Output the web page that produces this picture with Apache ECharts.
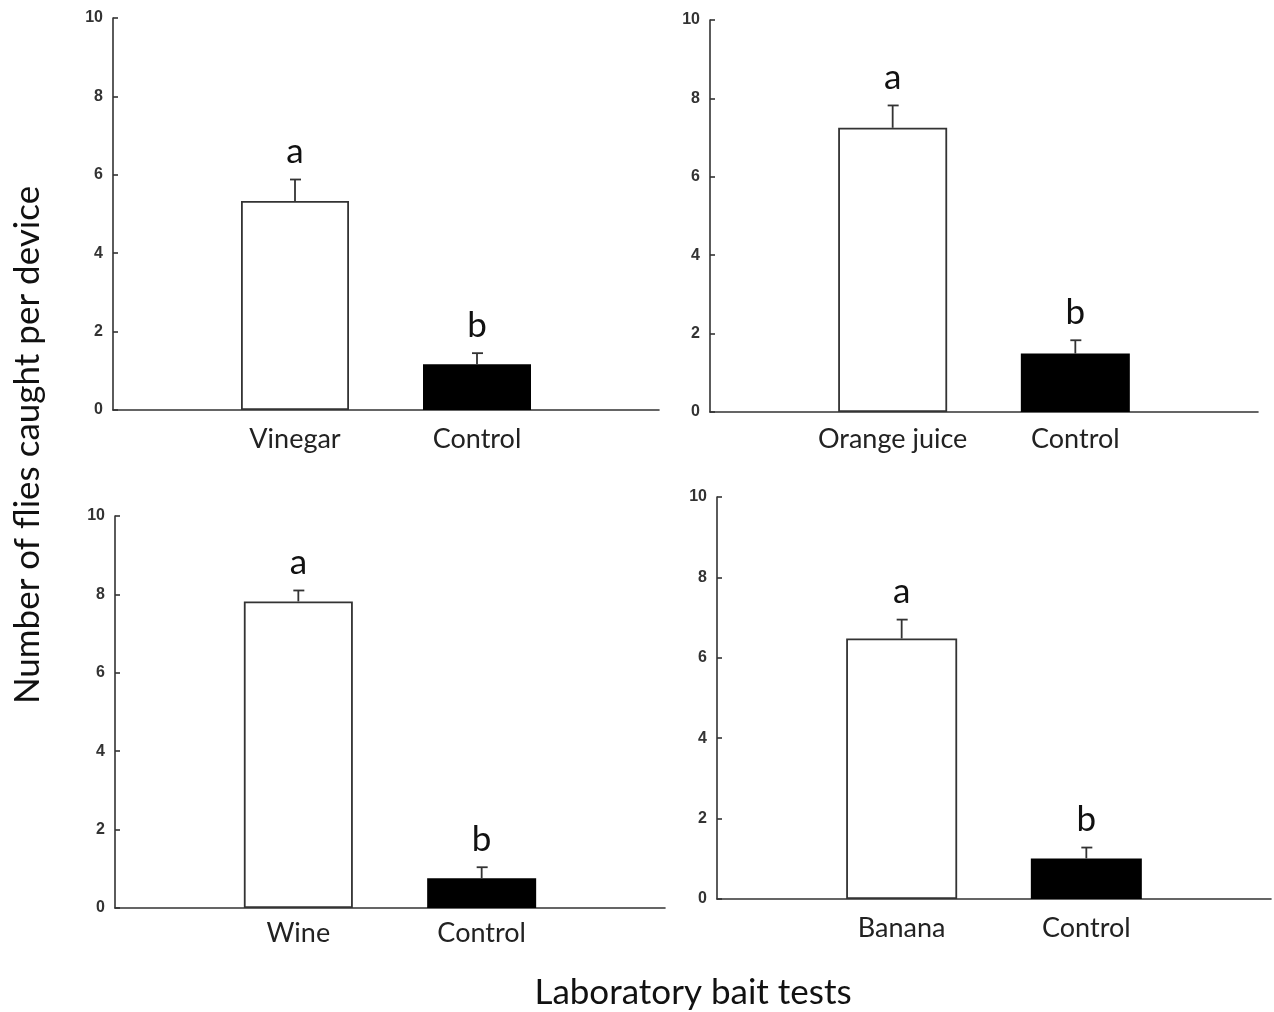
<!DOCTYPE html>
<html>
<head>
<meta charset="utf-8">
<script src="https://cdn.jsdelivr.net/npm/echarts@6/dist/echarts.min.js"></script>
<style>
html,body{margin:0;padding:0;background:#fff;}
#c{width:1274px;height:1012px;}
</style>
</head>
<body>
<div id="c"></div>
<script>
// ---- data ----
const categories1 = ['Vinegar', 'Control'];
const means1 = [5.33, 1.17];
const se1 = [0.55, 0.28];

const categories2 = ['Orange juice', 'Control'];
const means2 = [7.25, 1.49];
const se2 = [0.57, 0.34];

const categories3 = ['Wine', 'Control'];
const means3 = [7.82, 0.76];
const se3 = [0.28, 0.28];

const categories4 = ['Banana', 'Control'];
const means4 = [6.48, 1.01];
const se4 = [0.47, 0.27];

const letters = ['a', 'b'];
const yTicks = [0, 2, 4, 6, 8, 10];
const yTitle = 'Number of flies caught per device';
const xTitle = 'Laboratory bait tests';

// ---- layout ----
const panels = [
  {cats: categories1, means: means1, se: se1, barW: 108, labelMargin: 16, grid: {left: 113, top: 18, width: 546, height: 392}},
  {cats: categories2, means: means2, se: se2, barW: 109, labelMargin: 14, grid: {left: 710, top: 20, width: 548, height: 392}},
  {cats: categories3, means: means3, se: se3, barW: 109, labelMargin: 12, grid: {left: 115, top: 516, width: 550, height: 392}},
  {cats: categories4, means: means4, se: se4, barW: 111, labelMargin: 16, grid: {left: 717, top: 497, width: 558, height: 402}}
];

const axisColor = '#333';
const textFont = 'Lato';

const option = {
  backgroundColor: '#fff',
  animation: false,
  grid: panels.map(p => Object.assign({containLabel: false}, p.grid)),
  xAxis: panels.map((p, i) => ({
    type: 'value', gridIndex: i, min: 0, max: 3, interval: 1,
    axisLine: {show: true, onZero: false, lineStyle: {color: axisColor, width: 1.6}},
    axisTick: {show: false},
    splitLine: {show: false},
    axisLabel: {
      formatter: v => p.cats[v - 1] || '',
      fontFamily: textFont, fontSize: 27, color: '#222', margin: p.labelMargin
    }
  })),
  yAxis: panels.map((p, i) => ({
    type: 'value', gridIndex: i, min: yTicks[0], max: yTicks[yTicks.length - 1], interval: yTicks[1] - yTicks[0],
    axisLine: {show: true, lineStyle: {color: axisColor, width: 1.6}},
    axisTick: {show: true, inside: true, length: 5, lineStyle: {color: axisColor, width: 1.6}},
    splitLine: {show: false},
    axisLabel: {fontFamily: 'Liberation Sans', fontSize: 16, fontWeight: 'bold', color: '#333', margin: 10}
  })),
  series: [],
  graphic: [
    {type: 'text', x: 28, y: 445, rotation: Math.PI / 2,
     style: {text: yTitle, font: '35px Lato', fill: '#111', align: 'center', verticalAlign: 'middle'}},
    {type: 'text', x: 693, y: 993,
     style: {text: xTitle, font: '35px Lato', fill: '#111', align: 'center', verticalAlign: 'middle'}}
  ]
};

panels.forEach((p, i) => {
  option.series.push({
    type: 'bar', xAxisIndex: i, yAxisIndex: i, barWidth: p.barW,
    data: p.means.map((m, j) => ({
      value: [j + 1, m],
      itemStyle: j === 0 ? {color: '#fff', borderColor: axisColor, borderWidth: 1.8} : {color: '#000'}
    }))
  });
  option.series.push({
    type: 'custom', xAxisIndex: i, yAxisIndex: i, z: 5,
    data: p.means.map((m, j) => [j + 1, m, m + p.se[j]]),
    renderItem: (params, api) => {
      const x = api.value(0);
      const b = api.coord([x, api.value(1)]);
      const e = api.coord([x, api.value(2)]);
      const ls = {stroke: axisColor, lineWidth: 1.8};
      return {
        type: 'group',
        children: [
          {type: 'line', shape: {x1: b[0], y1: b[1], x2: e[0], y2: e[1]}, style: ls},
          {type: 'line', shape: {x1: e[0] - 5, y1: e[1], x2: e[0] + 6, y2: e[1]}, style: ls},
          {type: 'text', x: e[0], y: e[1] - 10,
           style: {text: letters[params.dataIndex], font: '35px Lato', fill: '#111', align: 'center', verticalAlign: 'bottom'}}
        ]
      };
    }
  });
});

const chart = echarts.init(document.getElementById('c'), null, {renderer: 'canvas'});
chart.setOption(option);
</script>
</body>
</html>
